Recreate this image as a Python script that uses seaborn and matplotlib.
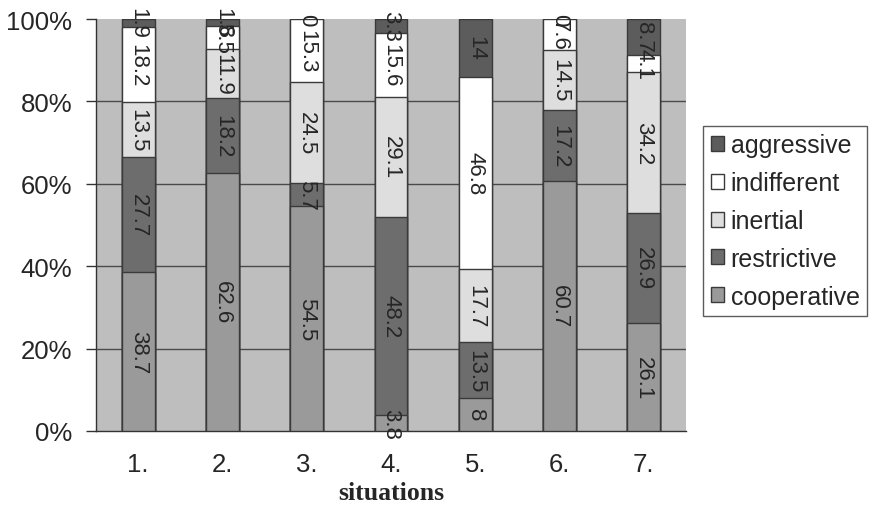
import numpy as np
import pandas as pd
import matplotlib
matplotlib.use("Agg")
import matplotlib.pyplot as plt
from matplotlib.patches import Patch
import seaborn as sns

# ---- data ----
situations = ["1.", "2.", "3.", "4.", "5.", "6.", "7."]
cooperative = [38.7, 62.6, 54.5, 3.8, 8.0, 60.7, 26.1]
restrictive = [27.7, 18.2, 5.7, 48.2, 13.5, 17.2, 26.9]
inertial = [13.5, 11.9, 24.5, 29.1, 17.7, 14.5, 34.2]
indifferent = [18.2, 5.5, 15.3, 15.6, 46.8, 7.6, 4.1]
aggressive = [1.9, 1.8, 0.0, 3.3, 14.0, 0.0, 8.7]
label_text = {
    "cooperative": ["38.7", "62.6", "54.5", "3.8", "8", "60.7", "26.1"],
    "restrictive": ["27.7", "18.2", "5.7", "48.2", "13.5", "17.2", "26.9"],
    "inertial": ["13.5", "11.9", "24.5", "29.1", "17.7", "14.5", "34.2"],
    "indifferent": ["18.2", "5.5", "15.3", "15.6", "46.8", "7.6", "4.1"],
    "aggressive": ["1.9", "1.8", "0", "3.3", "14", "0", "8.7"],
}
series_names = ["cooperative", "restrictive", "inertial", "indifferent", "aggressive"]
series_vals = [cooperative, restrictive, inertial, indifferent, aggressive]
colors = {
    "cooperative": "#9a9a9a",
    "restrictive": "#6d6d6d",
    "inertial": "#dedede",
    "indifferent": "#ffffff",
    "aggressive": "#5c5c5c",
}

sns.set_style("white")
plt.rcParams["font.family"] = ["Liberation Sans", "DejaVu Sans"]

fig = plt.figure(figsize=(8.76, 5.10), dpi=100)
ax = fig.add_axes([96 / 876, 78 / 510, 590 / 876, 412 / 510])
ax.set_facecolor("#bebebe")

df = pd.DataFrame({"situation": situations})
cum = np.zeros(len(situations))
cums = []
for name, vals in zip(series_names, series_vals):
    bottom = cum.copy()
    cum = cum + np.array(vals)
    cums.append((name, bottom, cum.copy()))

# stacked via cumulative heights drawn top-down
for name, bottom, top in reversed(cums):
    d = df.copy()
    d["top"] = top
    sns.barplot(data=d, x="situation", y="top", color=colors[name], width=0.39,
                edgecolor="#3a3a3a", linewidth=1.0, ax=ax, saturation=1, zorder=3)

# value labels
for name, bottom, top in cums:
    for i in range(len(situations)):
        ymid = (bottom[i] + top[i]) / 2
        ax.text(i, ymid, label_text[name][i], rotation=-90, ha="center", va="center",
                fontsize=16, color="#262626", zorder=5, clip_on=False)

ax.set_ylim(0, 100)
ax.set_xlim(-0.5, 6.5)
ax.set_yticks([0, 20, 40, 60, 80, 100])
ax.set_yticklabels(["0%", "20%", "40%", "60%", "80%", "100%"])
for yv in [20, 40, 60, 80]:
    ax.axhline(yv, color="#4a4a4a", linewidth=1.0, zorder=1)

ax.set_xticks(range(len(situations)))
ax.set_xticklabels(situations)
ax.set_xticks(np.arange(-0.5, 7.0, 1.0), minor=True)
ax.tick_params(axis="x", which="major", length=0, pad=15, labelsize=18.5, colors="#262626")
ax.tick_params(axis="x", which="minor", length=5, width=1, color="#333333", direction="out")
ax.tick_params(axis="y", which="major", length=7, width=1, color="#333333", direction="out",
               pad=10, labelsize=18.5, labelcolor="#262626", left=True)

for s in ["top", "right"]:
    ax.spines[s].set_visible(False)
for s in ["left", "bottom"]:
    ax.spines[s].set_visible(True)
    ax.spines[s].set_color("#333333")
    ax.spines[s].set_linewidth(1.0)

ax.set_ylabel("")
ax.set_xlabel("situations", fontsize=18.5, fontweight="bold",
              family=["Liberation Serif", "DejaVu Serif"], color="#262626", labelpad=4)

handles = [Patch(facecolor=colors[n], edgecolor="#3a3a3a", linewidth=1.0) for n in reversed(series_names)]
leg = fig.legend(handles, list(reversed(series_names)), loc="upper left",
                 bbox_to_anchor=(703 / 876, 1 - 127 / 510), frameon=True, fancybox=False,
                 fontsize=18, handlelength=0.55, handleheight=0.55, handletextpad=0.25,
                 labelspacing=0.55, borderpad=0.3, borderaxespad=0)
leg.get_frame().set_edgecolor("#333333")
leg.get_frame().set_linewidth(1.0)
for t in leg.get_texts():
    t.set_color("#262626")

fig.savefig("out.png", dpi=100)
